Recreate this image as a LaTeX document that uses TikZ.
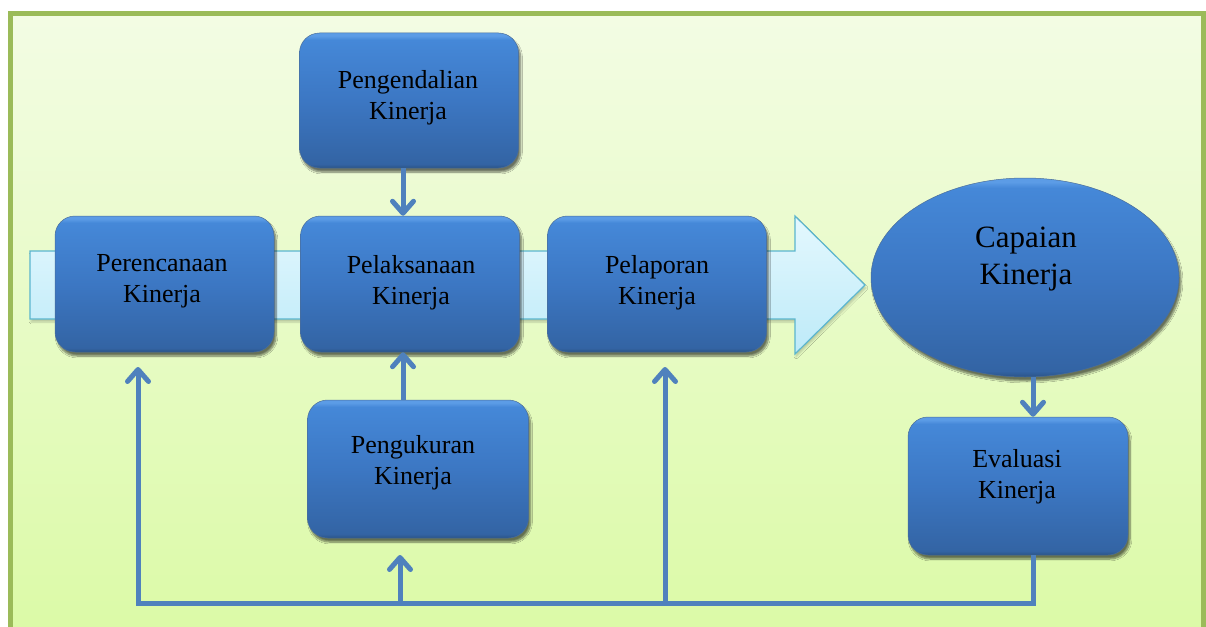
\documentclass[tikz,border=0pt]{standalone}
\usepackage{fontspec}
\setmainfont{Liberation Serif}
\usetikzlibrary{arrows.meta,shapes.geometric,shadows.blur,calc}
\definecolor{frameG}{HTML}{9BBB59}
\definecolor{bgT}{HTML}{F3FCE4}
\definecolor{bgB}{HTML}{DBFAA6}
\definecolor{bxT}{HTML}{4588D8}
\definecolor{bxL}{HTML}{5C9CE6}
\definecolor{bxM}{HTML}{3C77C3}
\definecolor{bxB}{HTML}{3364A4}
\definecolor{bxD}{HTML}{2B5487}
\definecolor{conC}{HTML}{4F81BD}
\definecolor{arT}{HTML}{E4F8FE}
\definecolor{arB}{HTML}{BDEAF8}
\definecolor{arE}{HTML}{5BB6CF}
\pgfdeclareverticalshading{boxsh}{100bp}{color(0bp)=(bxD); color(25bp)=(bxD); color(26.5bp)=(bxB); color(50bp)=(bxM); color(72.5bp)=(bxT); color(74bp)=(bxL); color(75bp)=(bxL); color(100bp)=(bxL)}
\tikzset{
  x=1pt, y=-1pt,
  bluebox/.style={rectangle, rounded corners=20pt, minimum width=219pt, minimum height=136pt,
    inner sep=0pt, shading=boxsh, draw=bxD!85, line width=0.5pt,
    blur shadow={shadow xshift=2pt, shadow yshift=-4pt, shadow blur steps=8, shadow opacity=55}},
  blueell/.style={ellipse, minimum width=308pt, minimum height=199pt, inner sep=0pt,
    shading=boxsh, draw=bxD!85, line width=0.5pt,
    blur shadow={shadow xshift=2pt, shadow yshift=-4pt, shadow blur steps=8, shadow opacity=55}},
  txt/.style={align=center, inner sep=0pt, text=black, font=\fontsize{26}{31.5}\selectfont},
  txtbig/.style={align=center, inner sep=0pt, text=black, font=\fontsize{31}{37}\selectfont},
  conn/.style={draw=conC, line width=5pt, line join=miter},
  arr/.style={-{Straight Barb[round, length=12pt, width=21pt]}},
  bigarrow/.style={top color=arT, bottom color=arB, draw=arE, line width=1.2pt,
    blur shadow={shadow xshift=1pt, shadow yshift=-3pt, shadow blur steps=6, shadow opacity=20}},
  framebox/.style={draw=frameG, line width=5pt}
}
\begin{document}
\begin{tikzpicture}
\useasboundingbox (0,0) rectangle (1206,626);
% background and frame
\path[top color=bgT, bottom color=bgB] (10.5,13.5) rectangle (1203.5,640);
\draw[framebox] (10.5,13.5) rectangle (1203.5,640);
% big flow arrow
\draw[bigarrow] (30,251) -- (795,251) -- (795,216) -- (865,285) -- (795,354) -- (795,319) -- (30,319) -- cycle;
% named helper coordinates
\coordinate (xa) at (403,0);
\coordinate (xc) at (1033,0);
\coordinate (fbR) at (1033,603);
\coordinate (fbL) at (138,603);
\coordinate (t1) at (138,367);
\coordinate (fbM) at (400,603);
\coordinate (t2) at (400,555);
\coordinate (fb3) at (665,603);
\coordinate (t3) at (665,367);
% boxes
\node[bluebox, minimum height=135pt] (pk) at (409,100.5) {};
\node[bluebox] (pr) at (164.5,284) {};
\node[bluebox] (pl) at (410,284) {};
\node[bluebox] (pp) at (657,284) {};
\node[bluebox, minimum width=221pt, minimum height=138pt] (pu) at (418,469) {};
\node[bluebox, minimum width=220pt, minimum height=138pt] (ev) at (1018,486) {};
\node[blueell] (cap) at (1025,277.5) {};
% texts
\node[txt] (tpk) at (408,97.5) {Pengendalian\\Kinerja};
\node[txt] (tpr) at (162,281.5) {Perencanaan\\Kinerja};
\node[txt] (tpl) at (411,282.5) {Pelaksanaan\\Kinerja};
\node[txt] (tpp) at (657,282.5) {Pelaporan\\Kinerja};
\node[txt] (tpu) at (413,462.5) {Pengukuran\\Kinerja};
\node[txt] (tev) at (1017,476.5) {Evaluasi\\Kinerja};
\node[txtbig] (tcap) at (1026,259.5) {Capaian\\Kinerja};
% connectors
\draw[conn, arr] (pk.south -| xa) -- (pl.north -| xa);
\draw[conn, arr] (pu.north -| xa) -- (pl.south -| xa);
\draw[conn, arr] (cap.south -| xc) -- (ev.north -| xc);
\draw[conn, arr] (ev.south -| xc) -- (fbR) -- (fbL) -- (t1);
\draw[conn, arr] (fbM) -- (t2);
\draw[conn, arr] (fb3) -- (t3);
\end{tikzpicture}
\end{document}
